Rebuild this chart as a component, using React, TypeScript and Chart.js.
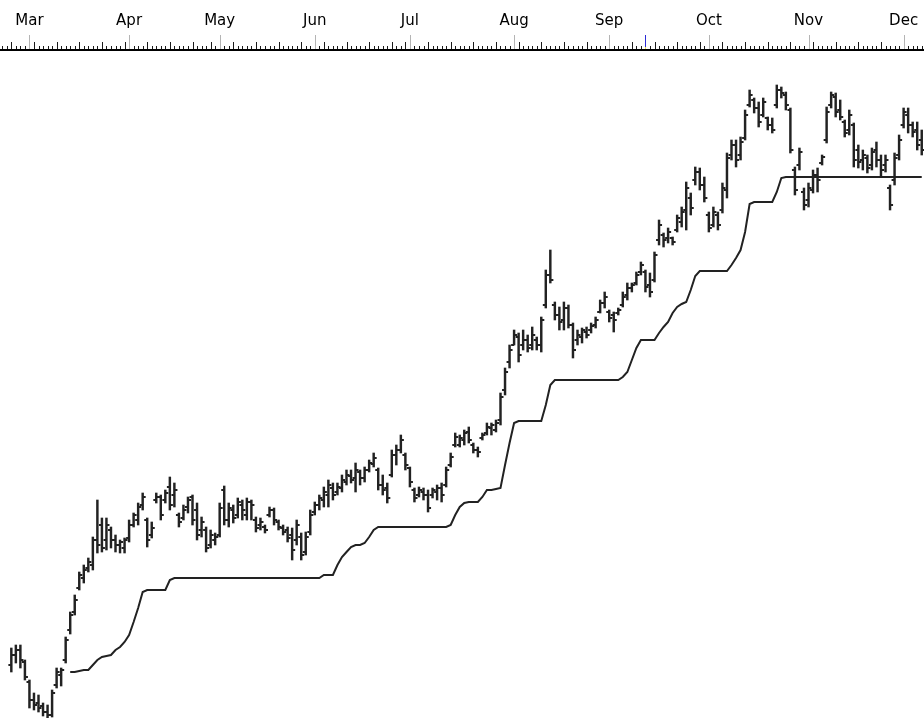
import React, { useEffect, useRef } from "react";
import { Chart, registerables } from "chart.js";

Chart.register(...registerables);

// ---- axis / calendar data ----
const dayCount = 204;
const monthLabels = ["Mar", "Apr", "May", "Jun", "Jul", "Aug", "Sep", "Oct", "Nov", "Dec"];
const monthStartIdx = [6, 28, 48, 69, 90, 113, 134, 156, 178, 199];
const weekSegments = [[2, 42], [46, 86], [89, 203]];
const cursorIdx = 142;

// ---- price data (OHLC) ----
const highs = [
  null, null, 35.2, 35.5, 35.5, 34.0, 32.0, 30.7, 30.5, 29.7,
  29.5, 31.0, 33.2, 33.2, 36.3, 38.8, 40.5, 42.8, 43.5, 44.2,
  46.3, 50.0, 48.2, 48.2, 47.3, 46.5, 46.0, 46.2, 48.0, 48.7,
  49.7, 50.7, 48.2, 47.8, 50.7, 50.5, 51.0, 52.3, 51.7, 48.7,
  49.5, 50.3, 50.5, 49.7, 48.3, 47.3, 47.0, 46.7, 49.7, 51.4,
  49.7, 49.5, 50.2, 50.0, 50.2, 50.0, 48.3, 48.2, 47.5, 49.3,
  49.2, 48.0, 47.5, 47.3, 47.2, 48.0, 46.7, 46.8, 49.0, 49.8,
  50.5, 51.3, 52.0, 51.7, 51.7, 52.5, 53.0, 53.0, 53.7, 53.0,
  53.3, 54.0, 54.7, 53.2, 52.5, 51.7, 55.0, 55.5, 56.5, 54.7,
  53.3, 51.2, 51.3, 51.2, 51.0, 51.2, 51.5, 51.7, 53.3, 54.7,
  56.7, 56.5, 57.0, 57.3, 55.7, 55.3, 56.7, 57.7, 57.7, 58.0,
  60.7, 63.2, 65.5, 67.0, 66.7, 67.0, 66.5, 67.3, 66.3, 68.3,
  73.0, 75.0, 69.8, 69.3, 69.8, 69.5, 67.7, 67.0, 67.2, 67.3,
  67.7, 68.3, 70.0, 70.8, 69.0, 68.8, 69.2, 70.8, 71.7, 71.7,
  72.8, 73.8, 73.0, 72.7, 74.8, 78.0, 76.7, 77.2, 76.3, 78.5,
  79.3, 81.8, 80.7, 83.3, 83.2, 82.3, 78.8, 79.3, 78.8, 81.7,
  84.7, 86.0, 86.0, 86.3, 89.0, 91.0, 90.2, 89.8, 90.2, 88.3,
  88.2, 91.5, 91.3, 90.8, 89.2, 83.3, 85.2, 81.2, 81.7, 83.0,
  83.2, 84.5, 89.3, 90.8, 90.7, 90.0, 88.0, 89.0, 87.7, 85.5,
  85.0, 84.5, 85.2, 85.8, 84.5, 84.5, 81.5, 84.7, 86.5, 89.2,
  89.2, 87.8, 87.8, 87.0,
];

const lows = [
  null, null, 32.8, 33.7, 33.2, 32.0, 29.2, 29.0, 28.8, 28.4,
  28.2, 28.3, 31.2, 31.4, 33.7, 36.6, 38.5, 41.0, 41.7, 42.8,
  43.0, 44.7, 44.8, 45.0, 45.2, 44.8, 44.7, 44.7, 45.8, 47.3,
  47.5, 49.0, 45.3, 46.2, 49.7, 48.0, 49.7, 49.0, 49.3, 47.3,
  48.0, 48.7, 47.5, 46.0, 46.3, 44.8, 45.2, 45.5, 46.3, 47.5,
  47.3, 47.7, 48.2, 48.0, 48.0, 48.0, 46.8, 47.0, 46.7, 48.3,
  47.5, 47.0, 46.5, 45.8, 44.0, 45.5, 44.0, 44.5, 46.5, 48.5,
  49.0, 49.3, 49.3, 50.0, 50.5, 50.8, 51.5, 51.7, 50.8, 51.5,
  51.8, 52.8, 53.3, 51.0, 50.5, 49.7, 52.3, 53.5, 54.7, 53.0,
  51.3, 49.8, 50.3, 50.0, 48.8, 50.2, 50.0, 49.8, 51.3, 53.3,
  55.3, 55.3, 55.5, 55.7, 54.7, 54.3, 56.0, 56.5, 56.5, 56.8,
  57.5, 60.5, 63.2, 65.5, 63.8, 65.0, 64.8, 65.0, 65.0, 64.8,
  69.2, 71.7, 68.0, 67.0, 67.0, 67.2, 64.2, 65.5, 65.7, 66.2,
  66.7, 67.2, 68.7, 69.2, 67.8, 66.8, 68.5, 69.3, 70.0, 70.8,
  71.5, 72.5, 70.8, 70.3, 71.8, 75.5, 75.3, 75.7, 75.5, 76.8,
  77.3, 77.0, 78.5, 81.5, 81.0, 79.8, 76.8, 77.3, 77.0, 78.7,
  80.2, 84.0, 83.3, 84.0, 86.0, 89.3, 88.7, 87.3, 88.3, 87.0,
  86.7, 89.2, 90.2, 89.0, 84.7, 80.5, 83.0, 79.0, 79.3, 80.7,
  80.8, 83.5, 85.7, 89.2, 88.3, 88.0, 86.3, 86.5, 83.3, 83.2,
  83.0, 82.7, 83.0, 83.3, 82.3, 82.8, 79.0, 81.5, 84.0, 87.2,
  86.7, 86.3, 85.0, 84.5,
];

const opens = [
  null, null, 33.5, 34.5, 35.0, 33.8, 31.8, 30.0, 29.7, 29.4,
  28.8, 28.5, 31.5, 32.5, 34.0, 37.0, 38.8, 41.2, 42.2, 43.2,
  43.5, 46.0, 47.5, 46.0, 47.0, 46.0, 45.5, 45.2, 46.2, 47.5,
  48.0, 49.5, 48.0, 46.5, 50.0, 50.3, 50.0, 51.3, 50.5, 48.5,
  48.2, 49.3, 50.3, 49.0, 47.0, 47.0, 45.5, 46.0, 46.5, 51.0,
  48.0, 49.0, 48.5, 49.5, 48.5, 49.8, 48.0, 47.5, 47.3, 48.5,
  49.0, 47.8, 47.2, 47.0, 46.5, 46.0, 46.3, 44.8, 46.8, 48.8,
  49.5, 50.0, 50.5, 51.2, 50.8, 51.2, 51.8, 52.4, 52.2, 52.8,
  52.2, 53.0, 53.6, 53.0, 51.5, 51.2, 52.5, 54.5, 55.0, 54.5,
  53.2, 51.0, 50.5, 50.8, 50.5, 50.5, 50.8, 51.2, 51.5, 53.5,
  55.5, 55.5, 56.0, 56.8, 55.5, 55.0, 56.2, 56.7, 57.2, 57.0,
  58.0, 61.0, 63.8, 65.5, 66.3, 65.5, 66.0, 65.5, 66.0, 65.5,
  69.5, 72.5, 69.5, 68.5, 68.0, 69.2, 67.5, 66.0, 66.3, 66.8,
  67.0, 67.5, 68.8, 69.7, 68.8, 68.5, 68.7, 69.5, 70.5, 71.2,
  71.7, 72.8, 72.8, 71.5, 72.0, 76.0, 76.5, 76.2, 76.2, 77.0,
  77.8, 79.0, 80.2, 82.0, 82.8, 81.5, 78.5, 77.5, 78.5, 79.0,
  81.0, 84.5, 85.5, 84.5, 86.2, 89.5, 90.0, 89.2, 88.5, 88.2,
  87.5, 89.5, 91.0, 90.5, 89.0, 83.0, 83.5, 80.8, 80.0, 81.0,
  82.5, 83.7, 86.0, 89.5, 90.3, 89.0, 87.8, 87.0, 87.5, 85.0,
  84.0, 84.2, 83.5, 85.0, 84.0, 83.5, 81.2, 82.0, 84.5, 87.5,
  88.5, 87.5, 87.0, 86.0,
];

const closes = [
  null, null, 34.5, 35.0, 34.0, 32.3, 30.0, 29.5, 29.2, 28.8,
  28.5, 30.7, 32.8, 33.0, 36.0, 38.5, 40.0, 42.5, 43.0, 43.8,
  46.0, 45.5, 45.2, 47.5, 46.0, 45.5, 45.8, 46.0, 47.5, 48.5,
  49.3, 50.3, 46.0, 47.2, 50.3, 48.5, 50.7, 49.5, 51.0, 47.8,
  49.0, 50.0, 48.0, 46.5, 47.8, 45.2, 46.5, 46.3, 49.2, 48.0,
  49.2, 48.2, 49.8, 49.0, 49.8, 49.5, 47.2, 47.8, 47.0, 49.0,
  48.0, 47.3, 46.8, 46.2, 45.0, 47.5, 44.5, 46.3, 48.5, 49.5,
  50.2, 50.8, 51.5, 50.5, 51.3, 52.0, 52.5, 52.0, 53.0, 52.2,
  53.0, 53.7, 54.2, 51.5, 51.0, 50.2, 54.5, 55.0, 56.0, 53.5,
  51.8, 50.2, 51.0, 50.5, 49.2, 51.0, 51.2, 50.5, 53.0, 54.3,
  56.3, 56.2, 56.7, 56.0, 55.0, 54.8, 56.5, 57.3, 57.5, 57.7,
  60.3, 62.8, 65.0, 66.5, 64.5, 66.0, 65.2, 66.5, 65.5, 68.0,
  72.5, 72.0, 68.5, 67.8, 69.2, 67.5, 65.0, 66.5, 67.0, 66.5,
  67.4, 68.0, 69.7, 70.3, 68.2, 68.0, 69.0, 70.3, 71.2, 71.5,
  72.5, 73.5, 71.3, 70.8, 74.5, 77.5, 76.0, 76.8, 75.8, 78.2,
  78.8, 81.2, 79.2, 82.8, 81.5, 80.2, 77.2, 78.8, 77.5, 81.2,
  84.2, 85.5, 84.0, 85.8, 88.5, 90.5, 89.2, 87.8, 89.8, 87.5,
  87.0, 91.0, 90.7, 89.5, 85.0, 81.0, 84.8, 79.5, 81.2, 82.5,
  82.0, 84.3, 88.8, 90.5, 88.8, 88.3, 86.7, 88.5, 84.0, 83.8,
  84.5, 83.2, 84.8, 84.0, 83.0, 84.0, 79.5, 84.2, 86.0, 88.8,
  87.5, 86.8, 85.5, 85.0,
];

// ---- trailing stop line ----
const stopLine = [
  null, null, null, null, null, null, null, null, null, null,
  null, null, null, null, null, 32.8, 32.8, 32.9, 33.0, 33.0,
  33.5, 34.0, 34.3, 34.4, 34.5, 35.0, 35.3, 35.8, 36.5, 37.8,
  39.2, 40.8, 41.0, 41.0, 41.0, 41.0, 41.0, 42.0, 42.2, 42.2,
  42.2, 42.2, 42.2, 42.2, 42.2, 42.2, 42.2, 42.2, 42.2, 42.2,
  42.2, 42.2, 42.2, 42.2, 42.2, 42.2, 42.2, 42.2, 42.2, 42.2,
  42.2, 42.2, 42.2, 42.2, 42.2, 42.2, 42.2, 42.2, 42.2, 42.2,
  42.2, 42.5, 42.5, 42.5, 43.5, 44.3, 44.8, 45.3, 45.5, 45.5,
  45.7, 46.3, 47.0, 47.3, 47.3, 47.3, 47.3, 47.3, 47.3, 47.3,
  47.3, 47.3, 47.3, 47.3, 47.3, 47.3, 47.3, 47.3, 47.3, 47.5,
  48.5, 49.3, 49.7, 49.8, 49.8, 49.8, 50.3, 51.0, 51.0, 51.1,
  51.2, 53.5, 55.7, 57.7, 57.9, 57.9, 57.9, 57.9, 57.9, 57.9,
  59.5, 61.5, 62.0, 62.0, 62.0, 62.0, 62.0, 62.0, 62.0, 62.0,
  62.0, 62.0, 62.0, 62.0, 62.0, 62.0, 62.0, 62.3, 62.8, 64.0,
  65.2, 66.0, 66.0, 66.0, 66.0, 66.7, 67.3, 67.8, 68.7, 69.3,
  69.6, 69.8, 71.0, 72.4, 72.9, 72.9, 72.9, 72.9, 72.9, 72.9,
  72.9, 73.5, 74.2, 75.0, 76.8, 79.6, 79.8, 79.8, 79.8, 79.8,
  79.8, 80.8, 82.2, 82.3, 82.3, 82.3, 82.3, 82.3, 82.3, 82.3,
  82.3, 82.3, 82.3, 82.3, 82.3, 82.3, 82.3, 82.3, 82.3, 82.3,
  82.3, 82.3, 82.3, 82.3, 82.3, 82.3, 82.3, 82.3, 82.3, 82.3,
  82.3, 82.3, 82.3, 82.3,
];

const INK = "#222222";

function makeTick(left: boolean): HTMLCanvasElement {
  const c = document.createElement("canvas");
  c.width = 8;
  c.height = 2;
  const g = c.getContext("2d")!;
  g.fillStyle = INK;
  if (left) g.fillRect(1, 0, 3, 2);
  else g.fillRect(4, 0, 3, 2);
  return c;
}

export default function App() {
  const ref = useRef<HTMLCanvasElement | null>(null);

  useEffect(() => {
    const canvas = ref.current;
    if (!canvas) return;
    const labels = Array.from({ length: dayCount }, (_, i) => String(i));
    const weekStarts = new Set<number>();
    weekSegments.forEach(([a, b]) => {
      for (let i = a; i <= b; i += 5) weekStarts.add(i);
    });
    const monthSet = new Set(monthStartIdx);

    const rulerPlugin = {
      id: "ruler",
      afterDraw(chart: any) {
        const ctx = chart.ctx as CanvasRenderingContext2D;
        const xs = chart.scales.x;
        const base = chart.chartArea.top - 3;
        ctx.save();
        ctx.fillStyle = "#000";
        ctx.fillRect(0, base, chart.width, 2);
        for (let i = 0; i < dayCount; i++) {
          const x = Math.round(xs.getPixelForValue(i));
          if (i === cursorIdx) {
            ctx.fillStyle = "#2b2bd6";
            ctx.fillRect(x, base - 14, 1, 12);
            ctx.fillStyle = "#e6d84a";
            ctx.fillRect(x, base - 2, 1, 2);
            continue;
          }
          if (monthSet.has(i)) {
            ctx.fillStyle = "#b4b4b4";
            ctx.fillRect(x, base - 14, 1, 14);
          } else if (weekStarts.has(i)) {
            ctx.fillStyle = "#1a1a1a";
            ctx.fillRect(x, base - 7, 1, 7);
          } else {
            ctx.fillStyle = "#1a1a1a";
            ctx.fillRect(x, base - 3, 1, 3);
          }
        }
        ctx.restore();
      },
    };

    const chart = new Chart(canvas, {
      type: "bar",
      data: {
        labels,
        datasets: [
          {
            type: "line",
            data: stopLine as any,
            borderColor: INK,
            borderWidth: 2,
            pointRadius: 0,
            tension: 0,
            fill: false,
            order: 3,
          } as any,
          {
            type: "bar",
            data: highs.map((h, i) => (h == null ? null : [lows[i], h])) as any,
            backgroundColor: INK,
            borderWidth: 0,
            barThickness: 1.8,
            grouped: false,
            order: 2,
          } as any,
          {
            type: "line",
            data: opens as any,
            showLine: false,
            pointStyle: makeTick(true),
            pointRadius: 2,
            order: 1,
          } as any,
          {
            type: "line",
            data: closes as any,
            showLine: false,
            pointStyle: makeTick(false),
            pointRadius: 2,
            order: 1,
          } as any,
        ],
      },
      options: {
        animation: false,
        responsive: false,
        events: [],
        layout: { padding: 0, autoPadding: false },
        plugins: { legend: { display: false }, tooltip: { enabled: false } },
        scales: {
          x: {
            position: "top",
            offset: true,
            grid: { display: false, drawTicks: true, tickLength: 22 },
            border: { display: false },
            ticks: {
              autoSkip: false,
              maxRotation: 0,
              minRotation: 0,
              padding: 0,
              color: "#000",
              font: { family: "DejaVu Sans", size: 15 },
              callback: (_v: any, i: number) => {
                const k = monthStartIdx.indexOf(i);
                return k >= 0 ? monthLabels[k] : "";
              },
            },
            afterFit: (s: any) => {
              s.height = 52;
              s.paddingLeft = 0;
              s.paddingRight = 0;
            },
          } as any,
          y: { display: false, min: 28.2, max: 94.8 },
        },
      },
      plugins: [rulerPlugin],
    });

    return () => chart.destroy();
  }, []);

  return (
    <div style={{ position: "absolute", left: 0, top: 0, width: 924, height: 718, background: "#fff" }}>
      <canvas ref={ref} width={924} height={718} style={{ display: "block" }} />
    </div>
  );
}
